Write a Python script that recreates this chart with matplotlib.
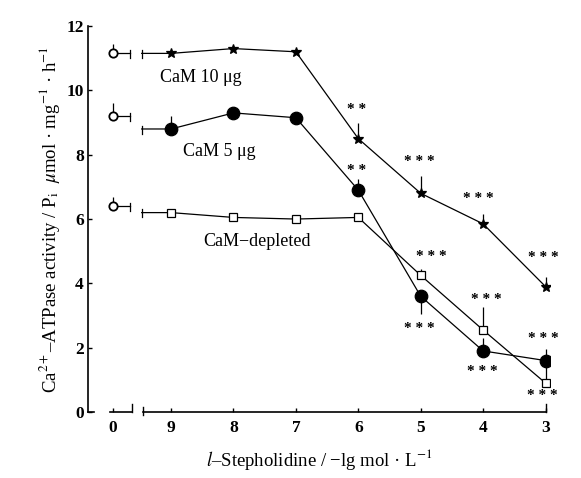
import matplotlib.pyplot as plt

plt.rcParams['font.family'] = ['Liberation Serif', 'DejaVu Serif']
plt.rcParams['mathtext.fontset'] = 'stix'

# concentrations (-lg mol/L), 0 = control
conc_labels = ['0', '9', '8', '7', '6', '5', '4', '3']

cam10 = [11.15, 11.15, 11.3, 11.2, 8.5, 6.8, 5.85, 3.9]
cam10_up = [0.3, 0.0, 0.0, 0.0, 0.5, 0.55, 0.3, 0.3]
cam10_dn = [0, 0, 0, 0, 0, 0, 0, 0]

cam5 = [9.2, 8.8, 9.3, 9.15, 6.9, 3.6, 1.9, 1.6]
cam5_up = [0.4, 0.4, 0.0, 0.0, 0.35, 0.0, 0.4, 0.35]
cam5_dn = [0, 0, 0, 0, 0, 0.55, 0, 0]

depl = [6.4, 6.2, 6.05, 6.0, 6.05, 4.25, 2.55, 0.9]
depl_up = [0.3, 0.0, 0.0, 0.0, 0.0, 0.2, 0.7, 0.5]
depl_dn = [0, 0, 0, 0, 0, 0, 0, 0]

# significance marks: (index, value, text)
stars = [
    (4, 9.4, '* *'), (4, 7.5, '* *'),
    (5, 7.8, '* * *'), (6, 6.65, '* * *'), (7, 4.8, '* * *'),
    (5, 4.85, '* * *'), (5, 2.6, '* * *'),
    (6, 3.5, '* * *'), (6, 1.25, '* * *'),
    (7, 2.3, '* * *'), (7, 0.5, '* * *'),
]
star_dx = [-0.03, -0.03, -0.03, -0.08, -0.03, 0.17, -0.03, 0.05, -0.02, -0.03, -0.05]

# broken x axis: control at 0, then 9..3 spaced by one unit
xpos = [0] + [0.93 + i for i in range(7)]

fig = plt.figure(figsize=(5.81, 4.78), dpi=100)
ax = fig.add_axes([0.1515, 0.138, 0.795, 0.8075])

series = [(cam10, cam10_dn, cam10_up, '*', 'black', 7),
          (cam5, cam5_dn, cam5_up, 'o', 'black', 9),
          (depl, depl_dn, depl_up, 's', 'white', 6)]

for y, dn, up, mk, fc, ms in series:
    # line pieces around the axis break
    ax.plot([xpos[0], 0.27], [y[0], y[0]], color='black', lw=0.9)
    ax.plot([0.27, 0.27], [y[0] - 0.15, y[0] + 0.1], color='black', lw=0.9)
    ax.plot([0.46, 0.46], [y[1] - 0.15, y[1] + 0.1], color='black', lw=0.9)
    ax.plot([0.46] + xpos[1:], [y[1]] + y[1:], color='black', lw=0.9)
    ax.errorbar(xpos, y, yerr=[dn, up], fmt='none', ecolor='black', elinewidth=0.9, capsize=0)
    ax.plot(xpos[1:], y[1:], linestyle='none', marker=mk, ms=ms, mfc=fc, mec='black', mew=0.9)
    ax.plot(xpos[0], y[0], linestyle='none', marker='o', ms=6, mfc='white', mec='black', mew=1.3)

for (i, v, t), dx in zip(stars, star_dx):
    ax.text(xpos[i] + dx, v, t, ha='center', va='center', fontsize=11, fontweight='bold')

ax.text(1.4, 10.4, 'CaM 10 μg', fontsize=13, ha='center', va='center')
ax.text(1.7, 8.1, 'CaM 5 μg', fontsize=13, ha='center', va='center')
ax.text(2.3, 5.3, 'CaM−depleted', fontsize=13, ha='center', va='center')

ax.set_xlim(-0.4, 7.0)
ax.set_ylim(0, 12)
ax.spines['top'].set_visible(False)
ax.spines['right'].set_visible(False)
ax.spines['bottom'].set_visible(False)
ax.spines['left'].set_linewidth(1.2)

# bottom axis drawn in two pieces
ax.plot([-0.05, 0.3], [0, 0], color='black', lw=1.2, clip_on=False)
ax.plot([0.3, 0.3], [0, 0.25], color='black', lw=1.0, clip_on=False)
ax.plot([0.48, 0.48], [-0.1, 0.15], color='black', lw=1.0, clip_on=False)
ax.plot([0.48, xpos[-1]], [0, 0], color='black', lw=1.2, clip_on=False)
ax.plot([xpos[-1], xpos[-1]], [0, 0.25], color='black', lw=1.0, clip_on=False)
ax.plot([-0.4, -0.3], [0, 0], color='black', lw=1.2, clip_on=False)

ax.set_xticks(xpos)
ax.set_xticklabels(conc_labels)
ax.set_yticks([0, 2, 4, 6, 8, 10, 12])
ax.tick_params(axis='x', direction='in', length=3, width=1, pad=6, labelsize=12.5)
ax.tick_params(axis='y', direction='in', length=3, width=1, pad=3, labelsize=12.5)
for lab in ax.get_xticklabels() + ax.get_yticklabels():
    lab.set_fontweight('bold')

ax.set_xlabel('$\\mathit{l}$–Stepholidine / −lg mol · L$^{-1}$', fontsize=13.5, labelpad=8)
ax.set_ylabel('Ca$^{2+}$–ATPase activity / P$_{\\rm i}$  $\\mu$mol · mg$^{-1}$ · h$^{-1}$',
              fontsize=13.5, labelpad=3)

fig.savefig('out.png', dpi=100)
